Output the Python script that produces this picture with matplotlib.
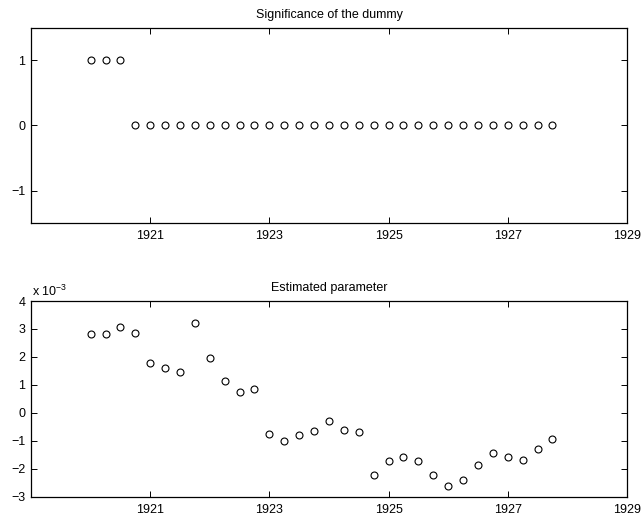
import numpy as np
import matplotlib
matplotlib.use("Agg")
import matplotlib.pyplot as plt

# quarterly observations, 1920Q1 .. 1927Q4
quarters = np.arange(1920.0, 1928.0, 0.25)

# significance of the dummy (1 = significant)
dummy_sig = [1, 1, 1] + [0] * 29

# estimated parameter, in units of 1e-3
param_est = [
    2.81, 2.81, 3.08, 2.87, 1.78, 1.61, 1.47, 3.20,
    1.96, 1.13, 0.76, 0.87, -0.74, -1.00, -0.80, -0.66,
    -0.30, -0.60, -0.69, -2.21, -1.73, -1.59, -1.74, -2.21,
    -2.63, -2.39, -1.85, -1.43, -1.58, -1.67, -1.28, -0.94,
]

xticks = [1921, 1923, 1925, 1927, 1929]

plt.rcParams["font.family"] = ["Liberation Sans", "DejaVu Sans"]
plt.rcParams["font.size"] = 9
plt.rcParams["mathtext.fontset"] = "custom"
plt.rcParams["mathtext.rm"] = "Liberation Sans"
plt.rcParams["mathtext.it"] = "Liberation Sans"


def minus(v):
    return f"{v}".replace("-", "\u2212")


def style_axes(ax):
    ax.set_xlim(1919, 1929)
    ax.set_xticks(xticks)
    ax.tick_params(direction="in", top=True, right=True, length=4,
                   width=0.7, labelsize=9)
    ax.tick_params(axis="x", pad=5)
    ax.tick_params(axis="y", pad=4)
    for s in ax.spines.values():
        s.set_linewidth(0.9)


fig = plt.figure(figsize=(6.42, 5.2), dpi=100)

ax1 = fig.add_axes([0.0483, 0.5706, 0.9283, 0.3765])
ax1.plot(quarters, dummy_sig, "o", mfc="none", mec="black", ms=5, mew=0.8)
ax1.set_ylim(-1.5, 1.5)
ax1.set_yticks([-1, 0, 1])
ax1.set_yticklabels([minus(v) for v in [-1, 0, 1]])
style_axes(ax1)
ax1.set_title("Significance of the dummy", fontsize=9, pad=6.6)

ax2 = fig.add_axes([0.0483, 0.0448, 0.9283, 0.3763])
ax2.plot(quarters, param_est, "o", mfc="none", mec="black", ms=5, mew=0.8)
ax2.set_ylim(-3, 4)
ax2.set_yticks(range(-3, 5))
ax2.set_yticklabels([minus(v) for v in range(-3, 5)])
style_axes(ax2)
ax2.set_title("Estimated parameter", fontsize=9, pad=7.2)
# scale factor shown above the y axis, MATLAB style
ax2.text(0.001, 1.012, r"x 10$^{-3}$", transform=ax2.transAxes,
         ha="left", va="bottom", fontsize=9)

fig.savefig("out.png", dpi=100)
